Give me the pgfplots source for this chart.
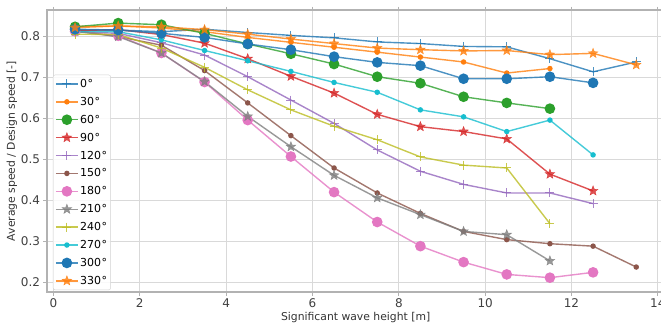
\documentclass[border=0pt]{standalone}
\usepackage{fontspec}
\setmainfont{DejaVu Sans}
\usepackage{pgfplots}
\pgfplotsset{compat=1.18}

% matplotlib tab10 palette
\definecolor{c0}{HTML}{1F77B4}
\definecolor{c1}{HTML}{FF7F0E}
\definecolor{c2}{HTML}{2CA02C}
\definecolor{c3}{HTML}{D62728}
\definecolor{c4}{HTML}{9467BD}
\definecolor{c5}{HTML}{8C564B}
\definecolor{c6}{HTML}{E377C2}
\definecolor{c7}{HTML}{7F7F7F}
\definecolor{c8}{HTML}{BCBD22}
\definecolor{c9}{HTML}{17BECF}

% filled five-pointed star marker
\pgfdeclareplotmark{fstar}{%
  \pgfpathmoveto{\pgfpointpolar{90}{\pgfplotmarksize}}%
  \pgfpathlineto{\pgfpointpolar{126}{0.42\pgfplotmarksize}}%
  \pgfpathlineto{\pgfpointpolar{162}{\pgfplotmarksize}}%
  \pgfpathlineto{\pgfpointpolar{198}{0.42\pgfplotmarksize}}%
  \pgfpathlineto{\pgfpointpolar{234}{\pgfplotmarksize}}%
  \pgfpathlineto{\pgfpointpolar{270}{0.42\pgfplotmarksize}}%
  \pgfpathlineto{\pgfpointpolar{306}{\pgfplotmarksize}}%
  \pgfpathlineto{\pgfpointpolar{342}{0.42\pgfplotmarksize}}%
  \pgfpathlineto{\pgfpointpolar{18}{\pgfplotmarksize}}%
  \pgfpathlineto{\pgfpointpolar{54}{0.42\pgfplotmarksize}}%
  \pgfpathclose
  \pgfusepathqfillstroke
}

\pgfplotsset{
  sp/.style={line width=1.4pt, opacity=0.8, mark options={solid, opacity=1}},
  mplus/.style={sp, mark=+, mark size=4.5pt, mark options={line width=1pt}},
  mdot/.style={sp, mark=*, mark size=2.0pt},
  mcirc/.style={sp, mark=*, mark size=4.6pt},
  mstar/.style={sp, mark=fstar, mark size=5.1pt, mark options={line width=0.4pt}},
}

\begin{document}
\begin{tikzpicture}
\begin{axis}[
  at={(0pt,0pt)}, anchor=south west,
  width=617.3pt, height=282pt, scale only axis,
  xmin=-0.15, xmax=14.15, ymin=0.176, ymax=0.865,
  xtick={0,2,4,6,8,10,12,14},
  ytick={0.2,0.3,0.4,0.5,0.6,0.7,0.8},
  yticklabels={0.2,0.3,0.4,0.5,0.6,0.7,0.8},
  /pgf/number format/assume math mode=true,
  ticklabel style={font=\fontsize{12}{13}\selectfont, text=black!75},
  tick align=outside, major tick length=3.5pt,
  tick style={gray!60, line width=0.8pt},
  grid=major, major grid style={gray!30, line width=0.9pt},
  axis line style={gray!60, line width=1.4pt},
  xlabel={Significant wave height [m]},
  ylabel={Average speed / Design speed [-]},
  label style={font=\fontsize{10.8}{12}\selectfont, text=black!80},
  xlabel style={yshift=3pt},
  ylabel style={yshift=-3pt},
  legend style={at={(axis description cs:0.0097,0.007)}, anchor=south west,
    draw=gray!35, fill=white, fill opacity=0.85, text opacity=1,
    rounded corners=2pt, font=\fontsize{11}{13}\selectfont,
    row sep=3.9pt, inner sep=2pt,
    nodes={inner sep=1.5pt, text height=9pt, text depth=2pt}},
  legend cell align=left,
  legend image code/.code={%
    \draw[mark repeat=2, mark phase=2] plot coordinates {(0pt,0pt) (11pt,0pt) (22pt,0pt)};},
]
% 0 deg
\addplot[mplus, c0] coordinates {(0.5,0.816) (1.5,0.816) (2.5,0.812) (3.5,0.818) (4.5,0.810) (5.5,0.803) (6.5,0.797) (7.5,0.787) (8.5,0.783) (9.5,0.776) (10.5,0.775) (11.5,0.746) (12.5,0.714) (13.5,0.738)};
\addlegendentry{0\kern0.6pt°}
% 30 deg
\addplot[mdot, c1] coordinates {(0.5,0.825) (1.5,0.826) (2.5,0.821) (3.5,0.812) (4.5,0.798) (5.5,0.786) (6.5,0.774) (7.5,0.762) (8.5,0.750) (9.5,0.738) (10.5,0.711) (11.5,0.722)};
\addlegendentry{30\kern0.6pt°}
% 60 deg
\addplot[mcirc, c2] coordinates {(0.5,0.824) (1.5,0.833) (2.5,0.829) (3.5,0.808) (4.5,0.782) (5.5,0.758) (6.5,0.733) (7.5,0.702) (8.5,0.686) (9.5,0.653) (10.5,0.638) (11.5,0.624)};
\addlegendentry{60\kern0.6pt°}
% 90 deg
\addplot[mstar, c3] coordinates {(0.5,0.815) (1.5,0.817) (2.5,0.805) (3.5,0.784) (4.5,0.746) (5.5,0.703) (6.5,0.662) (7.5,0.610) (8.5,0.580) (9.5,0.568) (10.5,0.550) (11.5,0.464) (12.5,0.423)};
\addlegendentry{90\kern0.6pt°}
% 120 deg
\addplot[mplus, c4] coordinates {(0.5,0.812) (1.5,0.808) (2.5,0.785) (3.5,0.755) (4.5,0.702) (5.5,0.645) (6.5,0.588) (7.5,0.523) (8.5,0.471) (9.5,0.439) (10.5,0.418) (11.5,0.418) (12.5,0.392)};
\addlegendentry{120\kern0.6pt°}
% 150 deg
\addplot[mdot, c5] coordinates {(0.5,0.815) (1.5,0.800) (2.5,0.779) (3.5,0.717) (4.5,0.638) (5.5,0.558) (6.5,0.479) (7.5,0.418) (8.5,0.368) (9.5,0.324) (10.5,0.304) (11.5,0.294) (12.5,0.288) (13.5,0.237)};
\addlegendentry{150\kern0.6pt°}
% 180 deg
\addplot[mcirc, c6] coordinates {(0.5,0.813) (1.5,0.802) (2.5,0.760) (3.5,0.689) (4.5,0.596) (5.5,0.507) (6.5,0.420) (7.5,0.347) (8.5,0.288) (9.5,0.249) (10.5,0.219) (11.5,0.211) (12.5,0.224)};
\addlegendentry{180\kern0.6pt°}
% 210 deg
\addplot[mstar, c7] coordinates {(0.5,0.813) (1.5,0.800) (2.5,0.760) (3.5,0.690) (4.5,0.605) (5.5,0.531) (6.5,0.461) (7.5,0.406) (8.5,0.365) (9.5,0.324) (10.5,0.316) (11.5,0.252)};
\addlegendentry{210\kern0.6pt°}
% 240 deg
\addplot[mplus, c8] coordinates {(0.5,0.806) (1.5,0.805) (2.5,0.772) (3.5,0.725) (4.5,0.670) (5.5,0.621) (6.5,0.581) (7.5,0.548) (8.5,0.506) (9.5,0.486) (10.5,0.479) (11.5,0.343)};
\addlegendentry{240\kern0.6pt°}
% 270 deg
\addplot[mdot, c9] coordinates {(0.5,0.812) (1.5,0.812) (2.5,0.792) (3.5,0.766) (4.5,0.741) (5.5,0.715) (6.5,0.688) (7.5,0.664) (8.5,0.621) (9.5,0.604) (10.5,0.568) (11.5,0.596) (12.5,0.511)};
\addlegendentry{270\kern0.6pt°}
% 300 deg
\addplot[mcirc, c0] coordinates {(0.5,0.818) (1.5,0.816) (2.5,0.808) (3.5,0.798) (4.5,0.782) (5.5,0.768) (6.5,0.751) (7.5,0.737) (8.5,0.729) (9.5,0.697) (10.5,0.697) (11.5,0.702) (12.5,0.687)};
\addlegendentry{300\kern0.6pt°}
% 330 deg
\addplot[mstar, c1] coordinates {(0.5,0.822) (1.5,0.826) (2.5,0.824) (3.5,0.817) (4.5,0.806) (5.5,0.794) (6.5,0.783) (7.5,0.772) (8.5,0.768) (9.5,0.765) (10.5,0.766) (11.5,0.756) (12.5,0.759) (13.5,0.731)};
\addlegendentry{330\kern0.6pt°}
\end{axis}
\pgfresetboundingbox
\path[use as bounding box] (-47pt,-33pt) rectangle (614pt,292pt);
\end{tikzpicture}
\end{document}
